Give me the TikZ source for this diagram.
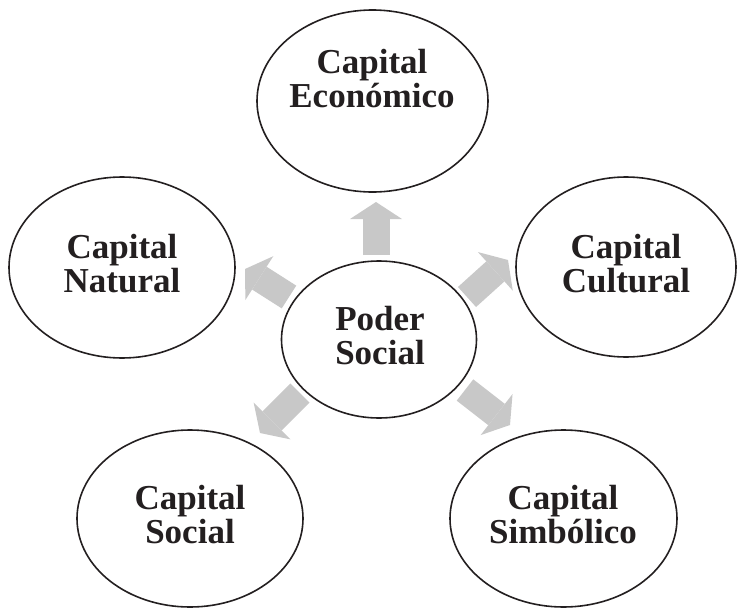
\documentclass[tikz,border=0pt]{standalone}
\usepackage{fontspec}
\setmainfont{Liberation Serif}
\usetikzlibrary{shapes.geometric,arrows.meta}
\definecolor{arrowgray}{HTML}{C8C8C8}
\definecolor{inkblack}{HTML}{231F20}
\begin{document}
\begin{tikzpicture}[x=1pt,y=-1pt,
  oval/.style={draw=inkblack, line width=1.6pt, ellipse, inner sep=0pt},
  lbl/.style={font=\fontsize{35}{34}\selectfont\bfseries, align=center, text=inkblack, inner sep=0pt},
  blk/.style={draw=arrowgray, line width=27pt,
    -{Triangle[length=17pt,width=52pt,line width=0pt,fill=arrowgray]}}]
\useasboundingbox (0,0) rectangle (737,608);

% ellipses
\node[oval, minimum width=231pt, minimum height=182pt] (top) at (372.5,101) {};
\node[oval, minimum width=226pt, minimum height=181pt] (nat) at (122,267.5) {};
\node[oval, minimum width=220pt, minimum height=180pt] (cul) at (626,267) {};
\node[oval, minimum width=226pt, minimum height=177pt] (soc) at (190,518.5) {};
\node[oval, minimum width=227pt, minimum height=177pt] (sim) at (563.5,518.5) {};
\node[oval, minimum width=195pt, minimum height=157pt] (pod) at (379,339.5) {};

% labels
\node[lbl] (ltop) at (372,79) {Capital\\Económico};
\node[lbl] (lnat) at (122,264) {Capital\\Natural};
\node[lbl] (lcul) at (626,264) {Capital\\Cultural};
\node[lbl] (lsoc) at (190,515) {Capital\\Social};
\node[lbl] (lsim) at (563,515) {Capital\\Simbólico};
\node[lbl] (lpod) at (380,336) {Poder\\Social};

% arrow end points
\coordinate (u0) at (376,255);  \coordinate (u1) at (376,202);
\coordinate (ul0) at (289,297); \coordinate (ul1) at (245,269);
\coordinate (ur0) at (467,297); \coordinate (ur1) at (508,260);
\coordinate (ll0) at (300,393); \coordinate (ll1) at (260,433);
\coordinate (lr0) at (465,390); \coordinate (lr1) at (510,425);

\draw[blk] (u0) -- (u1);
\draw[blk] (ul0) -- (ul1);
\draw[blk] (ur0) -- (ur1);
\draw[blk] (ll0) -- (ll1);
\draw[blk] (lr0) -- (lr1);
\end{tikzpicture}
\end{document}
